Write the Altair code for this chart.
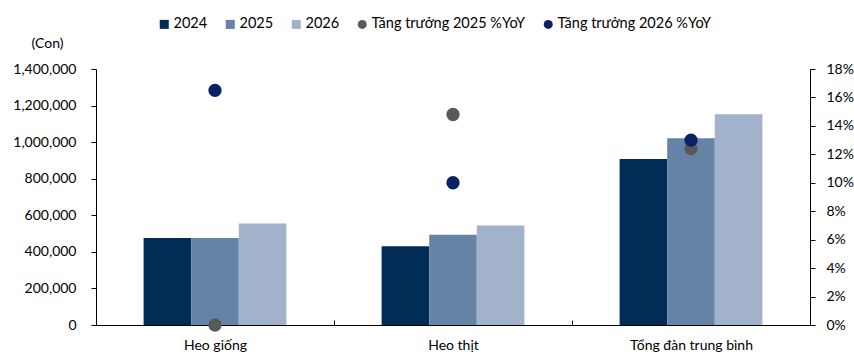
import altair as alt
import pandas as pd

# Herd size by category (heads) and YoY growth of the forecast years
categories = ["Heo giống", "Heo thịt", "Tổng đàn trung bình"]
years = ["2024", "2025", "2026"]
herd_2024 = [476000, 430000, 908000]
herd_2025 = [476000, 494000, 1021000]
herd_2026 = [555000, 544000, 1153000]
growth_2025 = [0.0, 0.148, 0.124]
growth_2026 = [0.165, 0.100, 0.130]

growth_names = ["Tăng trưởng 2025 %YoY", "Tăng trưởng 2026 %YoY"]
series_order = years + growth_names
series_colors = ["#002C55", "#6583A6", "#A3B2CB", "#595959", "#0A2162"]
series_shapes = ["square", "square", "square", "circle", "circle"]

bars_df = pd.DataFrame(
    [
        {"cat": c, "series": y, "value": v}
        for y, vals in zip(years, [herd_2024, herd_2025, herd_2026])
        for c, v in zip(categories, vals)
    ]
)
dots_df = pd.DataFrame(
    [
        {"cat": c, "series": name, "growth": g}
        for name, vals in zip(growth_names, [growth_2025, growth_2026])
        for c, g in zip(categories, vals)
    ]
)

FONT = "Lato"
color_scale = alt.Scale(domain=series_order, range=series_colors)

x_enc = alt.X(
    "cat:N",
    sort=categories,
    title=None,
    scale=alt.Scale(paddingInner=0, paddingOuter=0),
    axis=alt.Axis(
        labelAngle=0,
        tickBand="extent",
        tickSize={"expr": "-5"},
        labelPadding=18,
        domainColor="#000000",
        tickColor="#000000",
        labelColor="#000000",
        labelFont=FONT,
        labelFontSize=14,
    ),
)

legend = alt.Legend(
    title=None,
    orient="none",
    direction="horizontal",
    legendX=61,
    legendY=-52,
    padding=0,
    columnPadding=15,
    labelOffset=2,
    symbolSize=81,
    symbolStrokeWidth=0,
    labelFont=FONT,
    labelFontSize=14.5,
    labelColor="#000000",
)

bars = (
    alt.Chart(bars_df)
    .mark_bar()
    .encode(
        x=x_enc,
        xOffset=alt.XOffset(
            "series:N",
            sort=years,
            scale=alt.Scale(paddingInner=0, paddingOuter={"expr": "1.1"}),
        ),
        y=alt.Y(
            "value:Q",
            scale=alt.Scale(domain=[0, 1400000], nice=False),
            axis=alt.Axis(
                values=[0, 200000, 400000, 600000, 800000, 1000000, 1200000, 1400000],
                format=",.0f",
                grid=False,
                tickSize=5,
                labelPadding=15,
                domainColor="#000000",
                tickColor="#000000",
                labelColor="#000000",
                labelFont=FONT,
                labelFontSize=14,
                title="(Con)",
                titleAngle=0,
                titleX=-49,
                titleY=-26,
                titleAlign="center",
                titleBaseline="middle",
                titleFont=FONT,
                titleFontSize=14,
                titleFontWeight="normal",
                titleColor="#000000",
            ),
        ),
        color=alt.Color("series:N", scale=color_scale, legend=legend),
    )
)

dots = (
    alt.Chart(dots_df)
    .mark_point(filled=True, opacity=1, size=177)
    .encode(
        x=x_enc,
        y=alt.Y(
            "growth:Q",
            scale=alt.Scale(domain=[0, 0.18], nice=False),
            axis=alt.Axis(
                orient="right",
                values=[0, 0.02, 0.04, 0.06, 0.08, 0.10, 0.12, 0.14, 0.16, 0.18],
                format=".0%",
                grid=False,
                tickSize=5,
                labelPadding=11,
                domainColor="#000000",
                tickColor="#000000",
                labelColor="#000000",
                labelFont=FONT,
                labelFontSize=14,
                title=None,
            ),
        ),
        color=alt.Color("series:N", scale=color_scale, legend=legend),
        shape=alt.Shape(
            "series:N",
            scale=alt.Scale(domain=series_order, range=series_shapes),
            legend=legend,
        ),
    )
)

chart = (
    alt.layer(bars, dots)
    .resolve_scale(y="independent")
    .properties(
        width=714,
        height=256,
        autosize="none",
        padding={"left": 96, "top": 69, "right": 44, "bottom": 29},
        background="#ffffff",
    )
    .configure_view(stroke=None)
)

chart.save("out.html", embed_options={"renderer": "svg", "actions": False})
